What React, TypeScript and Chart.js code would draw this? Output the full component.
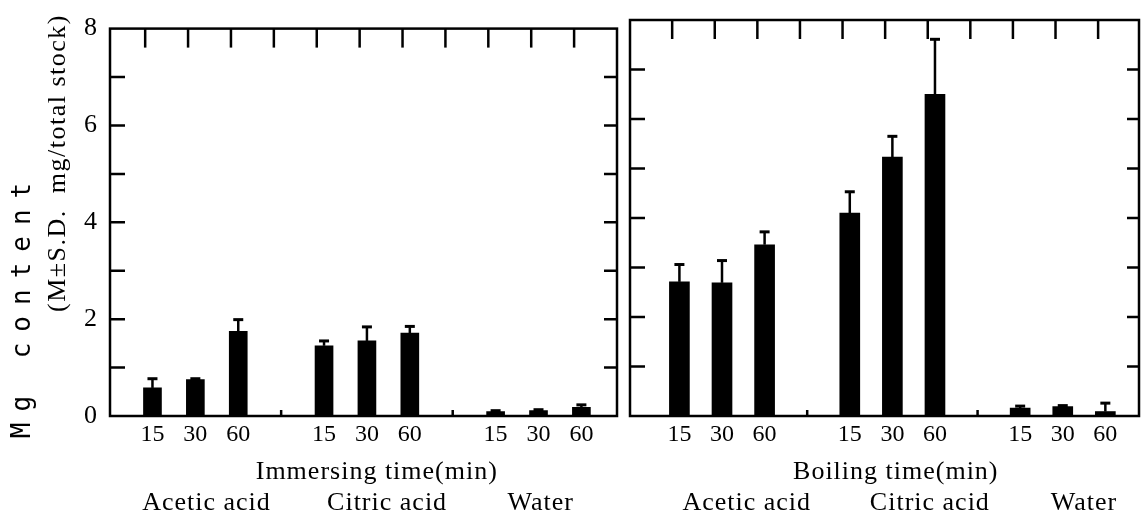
import React, { useEffect, useRef } from "react";
import { Chart, registerables } from "chart.js";

Chart.register(...registerables);

// ---- data ----
const timeLabels = ["15", "30", "60"];
const groupLabels = ["Acetic acid", "Citric acid", "Water"];
const immersingMeans = [0.58, 0.75, 1.75, 1.45, 1.55, 1.71, 0.09, 0.11, 0.18];
const immersingSD = [0.19, 0.02, 0.24, 0.1, 0.29, 0.14, 0.02, 0.02, 0.05];
const boilingMeans = [2.71, 2.69, 3.46, 4.1, 5.23, 6.5, 0.16, 0.19, 0.09];
const boilingSD = [0.35, 0.45, 0.26, 0.43, 0.42, 1.11, 0.04, 0.02, 0.17];
const yMin = 0;
const yMax = 8;
const yStep = 2;
const yTitleMain = "Mg content";
const yTitleSub = "(M\u00b1S.D.  mg/total stock)";

const SERIF = "'Liberation Serif', 'Times New Roman', serif";
const MONO = "'DejaVu Sans Mono', monospace";

const slotOf = (i: number) => Math.floor(i / 3) * 4 + (i % 3);

type Panel = {
  means: number[];
  sd: number[];
  xMin: number;
  xMax: number;
  padTop: number;
  padRight: number;
  yWidth: number;
  showY: boolean;
  barThickness: number;
  leftTick: number;
  rightTick: number;
  title: string;
  titleAt: number;
  groupAt: number[];
};

const leftPanel: Panel = {
  means: immersingMeans,
  sd: immersingSD,
  xMin: -0.99,
  xMax: 10.83,
  padTop: 21,
  padRight: 5,
  yWidth: 110,
  showY: true,
  barThickness: 18,
  leftTick: 15,
  rightTick: 13,
  title: "Immersing time(min)",
  titleAt: 5.23,
  groupAt: [1.26, 5.47, 9.05],
};

const rightPanel: Panel = {
  means: boilingMeans,
  sd: boilingSD,
  xMin: -1.16,
  xMax: 10.79,
  padTop: 20,
  padRight: 2,
  yWidth: 8,
  showY: false,
  barThickness: 20,
  leftTick: 15,
  rightTick: 12,
  title: "Boiling time(min)",
  titleAt: 5.08,
  groupAt: [1.58, 5.88, 9.5],
};

function framePlugin(p: Panel) {
  return {
    id: "frame",
    afterDatasetsDraw(chart: any) {
      const { ctx, chartArea: a, scales } = chart;
      const xs = scales.x;
      const ys = scales.y;
      ctx.save();
      ctx.strokeStyle = "#000";
      ctx.fillStyle = "#000";
      ctx.lineWidth = 2.5;
      ctx.lineCap = "butt";
      // box
      ctx.strokeRect(a.left, a.top, a.right - a.left, a.bottom - a.top);
      // inward y ticks on both edges
      for (let v = yMin + 1; v < yMax; v++) {
        const y = ys.getPixelForValue(v);
        ctx.beginPath();
        ctx.moveTo(a.left, y);
        ctx.lineTo(a.left + p.leftTick, y);
        ctx.moveTo(a.right, y);
        ctx.lineTo(a.right - p.rightTick, y);
        ctx.stroke();
      }
      // top ticks at each slot
      for (let s = 0; s <= 10; s++) {
        const x = xs.getPixelForValue(s - 0.17);
        ctx.beginPath();
        ctx.moveTo(x, a.top);
        ctx.lineTo(x, a.top + 19);
        ctx.stroke();
      }
      // small bottom ticks at group gaps
      [3, 7].forEach((s) => {
        const x = xs.getPixelForValue(s);
        ctx.beginPath();
        ctx.moveTo(x, a.bottom);
        ctx.lineTo(x, a.bottom - 6);
        ctx.stroke();
      });
      // error bars (upper side only)
      const meta = chart.getDatasetMeta(0);
      meta.data.forEach((bar: any, i: number) => {
        const yb = ys.getPixelForValue(p.means[i]);
        const yt = ys.getPixelForValue(p.means[i] + p.sd[i]);
        ctx.lineWidth = 2.5;
        ctx.beginPath();
        ctx.moveTo(bar.x, yb);
        ctx.lineTo(bar.x, yt);
        ctx.stroke();
        ctx.lineWidth = 3;
        ctx.beginPath();
        ctx.moveTo(bar.x - 5, yt);
        ctx.lineTo(bar.x + 5, yt);
        ctx.stroke();
      });
      ctx.restore();
    },
    afterDraw(chart: any) {
      const { ctx, scales } = chart;
      const xs = scales.x;
      ctx.save();
      ctx.fillStyle = "#000";
      ctx.textAlign = "center";
      ctx.textBaseline = "alphabetic";
      ctx.font = `26px ${SERIF}`;
      (ctx as any).letterSpacing = "1px";
      ctx.fillText(p.title, xs.getPixelForValue(p.titleAt), 479);
      groupLabels.forEach((g, i) => {
        ctx.fillText(g, xs.getPixelForValue(p.groupAt[i]), 510);
      });
      if (p.showY) {
        ctx.save();
        ctx.translate(23, 305);
        ctx.rotate(-Math.PI / 2);
        ctx.textBaseline = "middle";
        ctx.font = `26px ${MONO}`;
        (ctx as any).letterSpacing = "11px";
        ctx.fillText(yTitleMain, 0, 0);
        ctx.restore();
        ctx.save();
        ctx.translate(58, 163);
        ctx.rotate(-Math.PI / 2);
        ctx.textBaseline = "middle";
        ctx.font = `26px ${SERIF}`;
        (ctx as any).letterSpacing = "1.5px";
        ctx.fillText(yTitleSub, 0, 0);
        ctx.restore();
      }
      ctx.restore();
    },
  };
}

function makeConfig(p: Panel): any {
  const data = p.means.map((v, i) => ({ x: slotOf(i), y: v }));
  const tickValues = p.means.map((_, i) => slotOf(i));
  return {
    type: "bar",
    data: {
      datasets: [
        {
          data,
          backgroundColor: "#000",
          borderWidth: 0,
          barThickness: p.barThickness,
        },
      ],
    },
    options: {
      animation: false,
      responsive: false,
      maintainAspectRatio: false,
      layout: { padding: { top: p.padTop, right: p.padRight, left: 0, bottom: 0 } },
      plugins: { legend: { display: false }, tooltip: { enabled: false } },
      scales: {
        x: {
          type: "linear",
          min: p.xMin,
          max: p.xMax,
          offset: false,
          grid: { display: false, drawTicks: false },
          border: { display: false },
          afterBuildTicks: (s: any) => {
            s.ticks = tickValues.map((v) => ({ value: v }));
          },
          afterFit: (s: any) => {
            s.height = 98;
          },
          ticks: {
            autoSkip: false,
            maxRotation: 0,
            padding: 4,
            color: "#000",
            font: { family: SERIF, size: 24 },
            callback: (v: number) => timeLabels[Math.round(v) % 4] ?? "",
          },
        },
        y: {
          min: yMin,
          max: yMax,
          grid: { display: false, drawTicks: false },
          border: { display: false },
          afterFit: (s: any) => {
            s.width = p.yWidth;
          },
          ticks: {
            display: p.showY,
            stepSize: yStep,
            padding: 13,
            color: "#000",
            font: { family: SERIF, size: 26 },
          },
        },
      },
    },
    plugins: [framePlugin(p)],
  };
}

export default function App() {
  const leftRef = useRef<HTMLCanvasElement>(null);
  const rightRef = useRef<HTMLCanvasElement>(null);
  useEffect(() => {
    const c1 = new Chart(leftRef.current as HTMLCanvasElement, makeConfig(leftPanel));
    const c2 = new Chart(rightRef.current as HTMLCanvasElement, makeConfig(rightPanel));
    return () => {
      c1.destroy();
      c2.destroy();
    };
  }, []);
  return (
    <div
      style={{
        position: "fixed",
        left: 0,
        top: 0,
        width: 1141,
        height: 514,
        background: "#fff",
        overflow: "hidden",
      }}
    >
      <canvas
        ref={leftRef}
        width={622}
        height={514}
        style={{ position: "absolute", left: 0, top: 0, width: 622, height: 514 }}
      />
      <canvas
        ref={rightRef}
        width={519}
        height={514}
        style={{ position: "absolute", left: 622, top: 0, width: 519, height: 514 }}
      />
    </div>
  );
}
